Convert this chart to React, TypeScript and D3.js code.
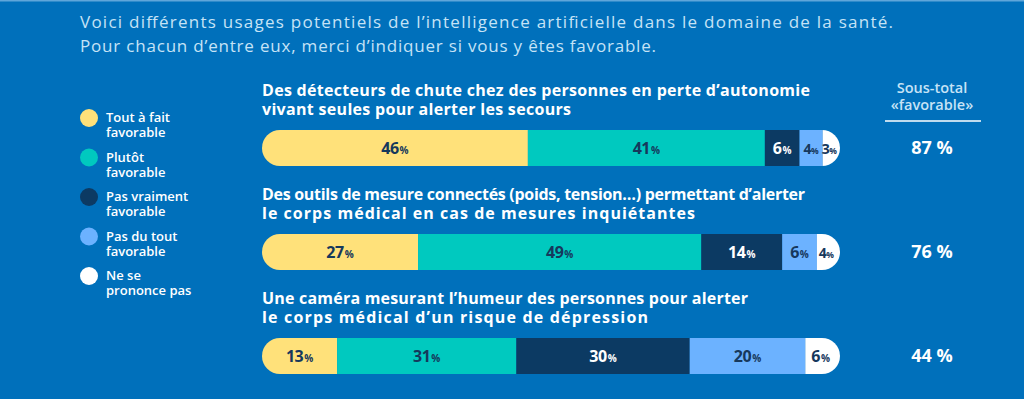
import React from 'react';
import * as d3 from 'd3';

const title = [
  'Voici différents usages potentiels de l’intelligence artificielle dans le domaine de la santé.',
  'Pour chacun d’entre eux, merci d’indiquer si vous y êtes favorable.',
];
const titleWidths = [813, 576];

const categories = [
  'Tout à fait favorable',
  'Plutôt favorable',
  'Pas vraiment favorable',
  'Pas du tout favorable',
  'Ne se prononce pas',
];
const legendLines = [
  ['Tout à fait', 'favorable'],
  ['Plutôt', 'favorable'],
  ['Pas vraiment', 'favorable'],
  ['Pas du tout', 'favorable'],
  ['Ne se', 'prononce pas'],
];
const colors = ['#ffe17a', '#00c9bf', '#0c3a63', '#6cb2ff', '#ffffff'];
const labelColors = ['#16385c', '#16385c', '#ffffff', '#16385c', '#16385c'];

const questions = [
  ['Des détecteurs de chute chez des personnes en perte d’autonomie', 'vivant seules pour alerter les secours'],
  ['Des outils de mesure connectés (poids, tension…) permettant d’alerter', 'le corps médical en cas de mesures inquiétantes'],
  ['Une caméra mesurant l’humeur des personnes pour alerter', 'le corps médical d’un risque de dépression'],
];
const questionWidths = [
  [548, 309],
  [543, 433],
  [486, 386],
];
const values = [
  [46, 41, 6, 4, 3],
  [27, 49, 14, 6, 4],
  [13, 31, 30, 20, 6],
];
const subtotals = ['87 %', '76 %', '44 %'];

const W = 1024;
const H = 399;
const font = "'Open Sans', sans-serif";

export default function App() {
  const x = d3.scaleLinear().domain([0, 100]).range([262, 840]);
  const rowY = d3.scaleOrdinal<number, number>().domain([0, 1, 2]).range([130, 234, 338]);
  const barH = 36;
  const legendY = d3.scaleLinear().domain([0, 4]).range([118, 276]);

  return (
    <svg width={W} height={H} style={{ position: 'absolute', left: 0, top: 0 }}>
      <rect x={0} y={0} width={W} height={H} fill="#0070bb" />
      <rect x={0} y={0} width={W} height={1.5} fill="#5fa6da" />
      {title.map((t, i) => (
        <text key={i} x={80} y={28 + i * 24} fill="#c6e3f6" fontFamily={font} fontSize={17}
          textLength={titleWidths[i]} lengthAdjust="spacing">
          {t}
        </text>
      ))}

      {legendLines.map((lines, i) => (
        <g key={i} transform={`translate(0,${legendY(i)})`}>
          <circle cx={89} cy={0} r={9} fill={colors[i]} />
          <text x={106} y={4} fill="#ffffff" fontFamily={font} fontSize={13} fontWeight={600}>
            {lines.map((l, j) => (
              <tspan key={j} x={106} dy={j === 0 ? 0 : 15}>{l}</tspan>
            ))}
          </text>
        </g>
      ))}

      <text x={932} y={93} textAnchor="middle" fill="#c6e3f6" fontFamily={font} fontSize={14.5} fontWeight={600}>Sous-total</text>
      <text x={932} y={110} textAnchor="middle" fill="#c6e3f6" fontFamily={font} fontSize={14.5} fontWeight={600}>«favorable»</text>
      <line x1={885} x2={981} y1={121} y2={121} stroke="#ffffff" strokeWidth={1.5} />

      <defs>
        {values.map((_, r) => (
          <clipPath key={r} id={`clip${r}`}>
            <rect x={x(0)} y={rowY(r)} width={x(100) - x(0)} height={barH} rx={barH / 2} />
          </clipPath>
        ))}
      </defs>

      {values.map((row, r) => {
        const y0 = rowY(r);
        const cum = d3.cumsum(row);
        return (
          <g key={r}>
            {questions[r].map((q, j) => (
              <text key={j} x={262} y={y0 - 34 + j * 19} fill="#ffffff" fontFamily={font} fontSize={16} fontWeight={700}
                textLength={questionWidths[r][j]} lengthAdjust="spacing">
                {q}
              </text>
            ))}
            <g clipPath={`url(#clip${r})`}>
              {row.map((v, i) => (
                <rect key={i} x={x(cum[i] - v)} y={y0} width={x(cum[i]) - x(cum[i] - v)} height={barH} fill={colors[i]} />
              ))}
            </g>
            {row.map((v, i) => {
              const small = v < 5;
              return (
                <text
                  key={i}
                  x={(x(cum[i] - v) + x(cum[i])) / 2 - (i === row.length - 1 ? 2 : 0)}
                  y={y0 + barH / 2 + 6}
                  textAnchor="middle"
                  fill={labelColors[i]}
                  fontFamily={font}
                  fontSize={small ? 14 : 16}
                  fontWeight={700}
                >
                  <tspan letterSpacing={-0.5}>{v}</tspan>
                  <tspan fontSize={small ? 8.5 : 10} dx={small ? 0 : 1}>%</tspan>
                </text>
              );
            })}
            <text x={932} y={y0 + barH / 2 + 6} textAnchor="middle" fill="#ffffff" fontFamily={font} fontSize={18} fontWeight={700}>
              {subtotals[r]}
            </text>
          </g>
        );
      })}
    </svg>
  );
}
